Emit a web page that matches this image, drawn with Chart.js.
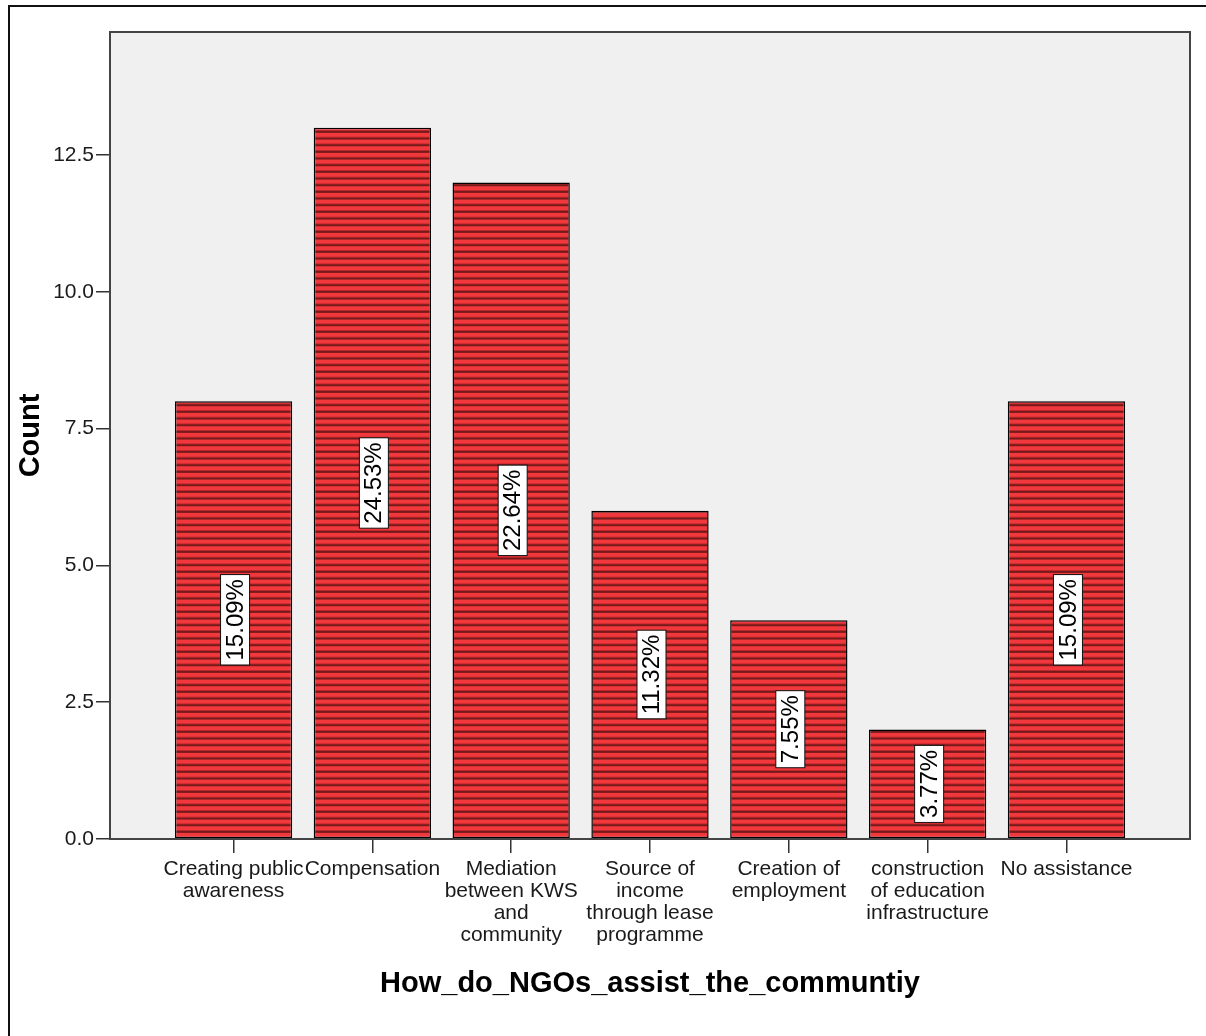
<!DOCTYPE html>
<html><head><meta charset="utf-8">
<script src="https://cdn.jsdelivr.net/npm/chart.js@4/dist/chart.umd.min.js"></script>
<style>html,body{margin:0;padding:0;background:#fff}canvas{display:block}</style>
</head><body>
<canvas id="c" width="1206" height="1036"></canvas>
<script>
const categories = [
  ['Creating public', 'awareness'],
  ['Compensation'],
  ['Mediation', 'between KWS', 'and', 'community'],
  ['Source of', 'income', 'through lease', 'programme'],
  ['Creation of', 'employment'],
  ['construction', 'of education', 'infrastructure'],
  ['No assistance']
];
const counts = [8, 13, 12, 6, 4, 2, 8];
const percentLabels = ['15.09%', '24.53%', '22.64%', '11.32%', '7.55%', '3.77%', '15.09%'];
const yTickValues = [0, 2.5, 5, 7.5, 10, 12.5];
const xTitle = 'How_do_NGOs_assist_the_communtiy';
const yTitle = 'Count';

const FONT = '"Liberation Sans", Arial, Helvetica, sans-serif';
const canvas = document.getElementById('c');
const ctx0 = canvas.getContext('2d');

function makePattern(ctx) {
  const c = document.createElement('canvas');
  c.width = 4; c.height = 20;
  const g = c.getContext('2d');
  g.fillStyle = '#f0383d';
  g.fillRect(0, 0, 4, 20);
  for (let k = 0; k < 3; k++) {
    const y0 = k * 20 / 3;
    g.fillStyle = '#c0262b';
    g.fillRect(0, y0 + 3.4, 4, 0.8);
    g.fillStyle = '#741a1a';
    g.fillRect(0, y0 + 4.2, 4, 2.0);
  }
  return ctx.createPattern(c, 'repeat');
}
const stripe = makePattern(ctx0);

const framePlugin = {
  id: 'frame',
  beforeDraw(chart) {
    const ctx = chart.ctx, a = chart.chartArea;
    ctx.save();
    ctx.fillStyle = '#fff';
    ctx.fillRect(0, 0, chart.width, chart.height);
    ctx.fillStyle = '#111';
    ctx.fillRect(8, 5, 2, chart.height - 5);
    ctx.fillRect(8, 5, chart.width - 8, 2);
    ctx.fillStyle = '#f0f0f0';
    ctx.fillRect(a.left, a.top, a.right - a.left, a.bottom - a.top);
    ctx.restore();
  },
  afterDatasetsDraw(chart) {
    const ctx = chart.ctx, a = chart.chartArea;
    ctx.save();
    ctx.strokeStyle = '#444';
    ctx.lineWidth = 2;
    ctx.strokeRect(a.left, a.top, a.right - a.left, a.bottom - a.top);
    const meta = chart.getDatasetMeta(0);
    ctx.font = '24px ' + FONT;
    meta.data.forEach((bar, i) => {
      const txt = percentLabels[i];
      const w = ctx.measureText(txt).width;
      const bw = w + 9, bh = 29;
      ctx.save();
      ctx.translate(bar.x + 1.5, (bar.y + bar.base) / 2);
      ctx.rotate(-Math.PI / 2);
      ctx.fillStyle = '#fff';
      ctx.fillRect(-bw / 2, -bh / 2, bw, bh);
      ctx.strokeStyle = '#111';
      ctx.lineWidth = 1;
      ctx.strokeRect(-bw / 2, -bh / 2, bw, bh);
      ctx.fillStyle = '#000';
      ctx.textAlign = 'center';
      ctx.textBaseline = 'middle';
      ctx.fillText(txt, 0, 1);
      ctx.restore();
    });
    ctx.restore();
  }
};

new Chart(canvas, {
  type: 'bar',
  data: {
    datasets: [{
      data: counts.map((v, i) => ({ x: i, y: v })),
      backgroundColor: stripe,
      borderColor: '#000',
      borderWidth: 1.5,
      borderSkipped: false,
      barPercentage: 0.845,
      categoryPercentage: 1
    }]
  },
  options: {
    responsive: false,
    animation: false,
    devicePixelRatio: 1,
    layout: { padding: { top: 32, right: 16, left: 0, bottom: 0 } },
    plugins: { legend: { display: false }, tooltip: { enabled: false } },
    scales: {
      x: {
        type: 'linear',
        offset: false,
        min: -0.89,
        max: 6.89,
        afterFit(s) { s.height = 197; },
        afterBuildTicks(s) { s.ticks = categories.map((_, i) => ({ value: i })); },
        grid: { offset: false, drawOnChartArea: false, drawTicks: true, tickLength: 14, color: '#333', lineWidth: 1.5 },
        border: { display: true, color: '#444', width: 2 },
        ticks: {
          autoSkip: false,
          maxRotation: 0,
          minRotation: 0,
          padding: 5,
          color: '#1a1a1a',
          font: { family: FONT, size: 21, lineHeight: 22 / 21 },
          callback: (v) => categories[v]
        },
        title: {
          display: true,
          text: xTitle,
          color: '#000',
          font: { family: FONT, size: 29, weight: 'bold', lineHeight: 1 },
          padding: { top: 0, bottom: 38 }
        }
      },
      y: {
        min: 0,
        max: 14.75,
        afterFit(s) { s.width = 110; },
        afterBuildTicks(s) { s.ticks = yTickValues.map(v => ({ value: v })); },
        grid: { drawOnChartArea: false, drawTicks: true, tickLength: 14, color: '#333', lineWidth: 1.5 },
        border: { display: true, color: '#444', width: 2 },
        ticks: {
          padding: 2,
          color: '#1a1a1a',
          font: { family: FONT, size: 21 },
          callback: (v) => Number(v).toFixed(1)
        },
        title: {
          display: true,
          text: yTitle,
          color: '#000',
          font: { family: FONT, size: 29, weight: 'bold', lineHeight: 1 },
          padding: { top: 16, bottom: 0 }
        }
      }
    }
  },
  plugins: [framePlugin]
});
</script>
</body></html>
